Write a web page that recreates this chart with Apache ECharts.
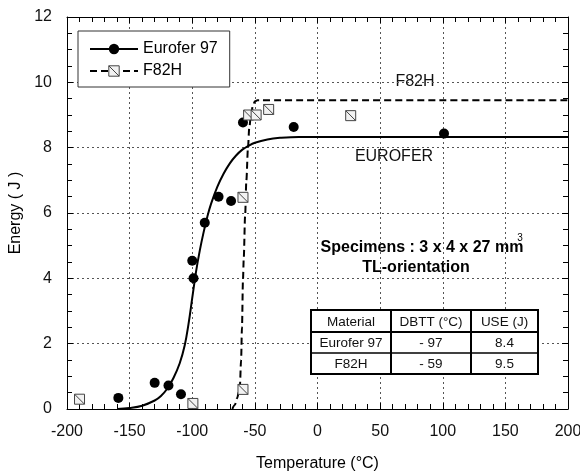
<!DOCTYPE html>
<html>
<head>
<meta charset="utf-8">
<script src="https://cdn.jsdelivr.net/npm/echarts@6/dist/echarts.min.js"></script>
<style>
  html, body { margin: 0; padding: 0; background: #fff; }
  #chart { width: 580px; height: 474px; }
</style>
</head>
<body>
<div id="chart"></div>
<script>
const euroferTemp = [-159, -130, -119, -109, -100, -99, -90, -79, -69, -59.5, -19, 101];
const euroferEnergy = [0.34, 0.80, 0.72, 0.45, 4.54, 4.0, 5.7, 6.5, 6.37, 8.77, 8.63, 8.43];
const f82hTemp = [-190, -99.5, -59.5, -59.5, -55, -49, -39, 26.5];
const f82hEnergy = [0.30, 0.17, 0.60, 6.48, 9.0, 9.0, 9.17, 8.98];

// fitted curves
const euroferFitTemp = [-160, -150, -140, -130, -125, -120, -115, -110, -106, -103, -100, -97, -94, -91, -88, -85, -80, -75, -70, -65, -60, -55, -50, -40, -30, -15, 200];
const euroferFitEnergy = [0, 0.03, 0.1, 0.26, 0.4, 0.62, 0.95, 1.4, 1.95, 2.6, 3.4, 4.2, 4.85, 5.4, 5.88, 6.28, 6.8, 7.2, 7.52, 7.76, 7.94, 8.06, 8.15, 8.25, 8.3, 8.33, 8.33];
const f82hFitTemp = [-68, -66, -64.2, -62, -61, -60.3, -59.5, -58.9, -57.8, -56.8, -55.5, -54.5, -53, -51.5, -50, -48, 200];
const f82hFitEnergy = [0, 0.12, 0.33, 0.68, 1.5, 2.5, 3.95, 4.6, 5.9, 7.0, 8.0, 8.6, 9.05, 9.3, 9.42, 9.45, 9.45];

// inset table
const tableHeader = ['Material', 'DBTT (°C)', 'USE (J)'];
const tableMaterials = ['Eurofer 97', 'F82H'];
const tableDbtt = ['- 97', '- 59'];
const tableUse = ['8.4', '9.5'];

const FONT = '"Liberation Sans", Arial, Helvetica, sans-serif';
const squareSymbol = 'path://M0,0H10V10H0Z M0,0L10,10';

function pairs(xs, ys) {
  return xs.map((x, i) => [x, ys[i]]);
}

function buildTable() {
  const left = 311, top = 310;
  const colW = [80, 80, 67];
  const rowH = [22, 21, 21];
  const totalW = colW.reduce((a, b) => a + b, 0);
  const totalH = rowH.reduce((a, b) => a + b, 0);
  const rows = [tableHeader].concat(tableMaterials.map((m, i) => [m, tableDbtt[i], tableUse[i]]));
  const els = [];
  els.push({
    type: 'rect', shape: { x: left, y: top, width: totalW, height: totalH },
    style: { fill: '#fff', stroke: '#000', lineWidth: 2 }, z: 10
  });
  let cx = left;
  for (let c = 0; c < colW.length - 1; c++) {
    cx += colW[c];
    els.push({ type: 'line', shape: { x1: cx, y1: top, x2: cx, y2: top + totalH },
      style: { stroke: '#000', lineWidth: 2 }, z: 11 });
  }
  let cy = top;
  for (let r = 0; r < rowH.length - 1; r++) {
    cy += rowH[r];
    els.push({ type: 'line', shape: { x1: left, y1: cy, x2: left + totalW, y2: cy },
      style: { stroke: '#000', lineWidth: r === 0 ? 2 : 1.5 }, z: 11 });
  }
  let y0 = top;
  rows.forEach((row, r) => {
    let x0 = left;
    row.forEach((txt, c) => {
      els.push({
        type: 'text', x: x0 + colW[c] / 2, y: y0 + rowH[r] / 2 + 1, z: 12,
        style: { text: txt, fill: '#111', font: '13.5px ' + FONT, align: 'center', verticalAlign: 'middle' }
      });
      x0 += colW[c];
    });
    y0 += rowH[r];
  });
  return els;
}

const chart = echarts.init(document.getElementById('chart'), null, { renderer: 'canvas' });

const gridLine = { show: true, lineStyle: { color: '#555', type: [2, 3], width: 1 } };
const axisLine = { show: true, onZero: false, lineStyle: { color: '#000', width: 1 } };

const option = {
  backgroundColor: '#fff',
  animation: false,
  textStyle: { fontFamily: FONT },
  grid: { left: 67, right: 12, top: 17, bottom: 65, containLabel: false, outerBoundsMode: 'none' },
  legend: {
    data: [{ name: 'Eurofer 97' }, { name: 'F82H', itemStyle: { borderWidth: 1 } }],
    orient: 'vertical',
    left: 78,
    top: 31,
    padding: [10, 12, 8, 11],
    itemGap: 6,
    itemWidth: 48,
    itemHeight: 13,
    backgroundColor: '#fff',
    borderColor: '#333',
    borderWidth: 1,
    borderRadius: 0,
    selectedMode: false,
    lineStyle: { width: 2 },
    textStyle: { fontSize: 16, color: '#000', fontFamily: FONT }
  },
  xAxis: [{
    type: 'value', min: -200, max: 200, interval: 50,
    name: 'Temperature (°C)', nameLocation: 'middle', nameGap: 47,
    nameTextStyle: { fontSize: 16, color: '#000', fontFamily: FONT },
    axisLine: axisLine,
    axisTick: { show: true, inside: true, length: 6, lineStyle: { color: '#000' } },
    minorTick: { show: true, splitNumber: 5, length: 5, lineStyle: { color: '#000' } },
    axisLabel: { fontSize: 16, color: '#111', margin: 15, fontFamily: FONT },
    splitLine: gridLine
  }, {
    type: 'value', min: -200, max: 200, interval: 50, position: 'top',
    axisLine: axisLine,
    axisTick: { show: true, inside: true, length: 6, lineStyle: { color: '#000' } },
    minorTick: { show: true, splitNumber: 5, length: 5, lineStyle: { color: '#000' } },
    axisLabel: { show: false },
    splitLine: { show: false }
  }],
  yAxis: [{
    type: 'value', min: 0, max: 12, interval: 2,
    name: 'Energy ( J )', nameLocation: 'middle', nameGap: 37, nameRotate: 90,
    nameTextStyle: { fontSize: 16, color: '#000', fontFamily: FONT },
    axisLine: axisLine,
    axisTick: { show: true, inside: true, length: 6, lineStyle: { color: '#000' } },
    minorTick: { show: true, splitNumber: 4, length: 5, lineStyle: { color: '#000' } },
    axisLabel: { fontSize: 16, color: '#111', margin: 15, fontFamily: FONT },
    splitLine: gridLine
  }, {
    type: 'value', min: 0, max: 12, interval: 2, position: 'right',
    axisLine: axisLine,
    axisTick: { show: true, inside: true, length: 6, lineStyle: { color: '#000' } },
    minorTick: { show: true, splitNumber: 4, length: 5, lineStyle: { color: '#000' } },
    axisLabel: { show: false },
    splitLine: { show: false }
  }],
  series: [{
    name: 'Eurofer 97',
    type: 'line',
    data: pairs(euroferFitTemp, euroferFitEnergy),
    smooth: 0.4,
    symbol: 'circle',
    symbolSize: 10,
    showSymbol: false,
    silent: true,
    itemStyle: { color: '#000' },
    lineStyle: { color: '#000', width: 2 },
    z: 3
  }, {
    name: 'F82H',
    type: 'line',
    data: pairs(f82hFitTemp, f82hFitEnergy),
    smooth: 0.3,
    smoothMonotone: 'x',
    symbol: squareSymbol,
    symbolSize: 10,
    showSymbol: false,
    silent: true,
    itemStyle: { color: '#f2f2f2', borderColor: '#444', borderWidth: 1 },
    lineStyle: { color: '#000', width: 2, type: [7, 4] },
    z: 3
  }, {
    name: 'Eurofer 97 data',
    type: 'scatter',
    data: pairs(euroferTemp, euroferEnergy),
    symbol: 'circle',
    symbolSize: 10,
    silent: true,
    itemStyle: { color: '#000', opacity: 1 },
    z: 5
  }, {
    name: 'F82H data',
    type: 'scatter',
    data: pairs(f82hTemp, f82hEnergy),
    symbol: squareSymbol,
    symbolSize: 10,
    silent: true,
    itemStyle: { color: '#f2f2f2', borderColor: '#444', borderWidth: 1, opacity: 1 },
    z: 5
  }],
  graphic: [
    { type: 'text', x: 415, y: 82, style: { text: 'F82H', fill: '#111', font: '16px ' + FONT, align: 'center', verticalAlign: 'middle' } },
    { type: 'text', x: 394, y: 157, style: { text: 'EUROFER', fill: '#111', font: '16px ' + FONT, align: 'center', verticalAlign: 'middle' } },
    { type: 'text', x: 422, y: 248, style: { text: 'Specimens : 3 x 4 x 27 mm', fill: '#000', font: 'bold 16px ' + FONT, align: 'center', verticalAlign: 'middle' } },
    { type: 'text', x: 520, y: 238, style: { text: '3', fill: '#000', font: '10px ' + FONT, align: 'center', verticalAlign: 'middle' } },
    { type: 'text', x: 416, y: 268, style: { text: 'TL-orientation', fill: '#000', font: 'bold 16px ' + FONT, align: 'center', verticalAlign: 'middle' } }
  ].concat(buildTable())
};

chart.setOption(option);
</script>
</body>
</html>
